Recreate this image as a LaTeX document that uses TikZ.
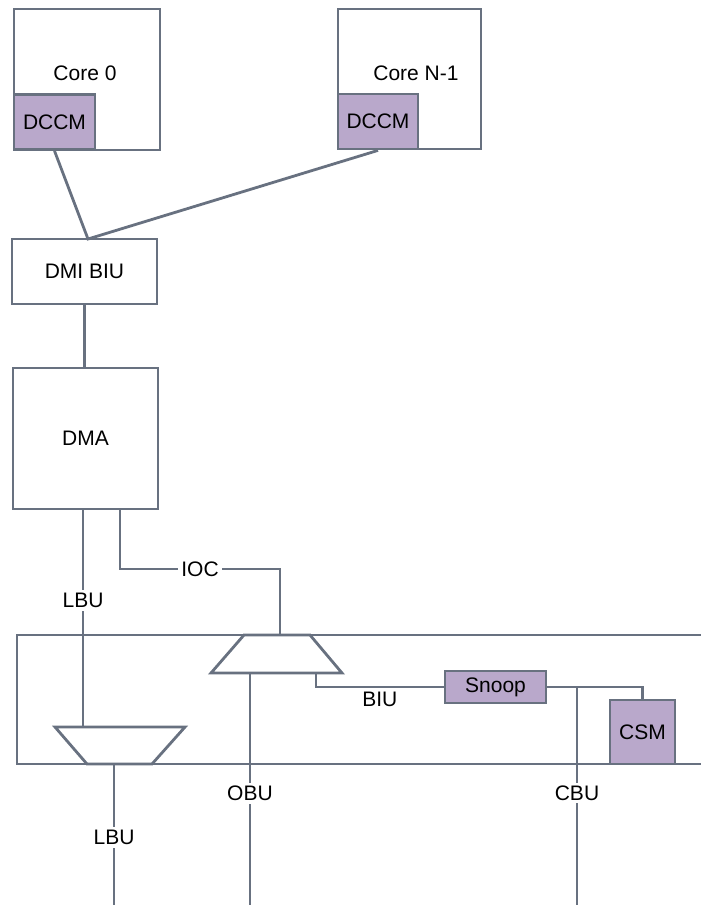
\documentclass[tikz,border=0pt]{standalone}
\usepackage{fontspec}
\setmainfont{Liberation Sans}
\usepackage{tikz}

\definecolor{linegray}{RGB}{104,113,128}
\definecolor{mempurple}{RGB}{185,168,203}

\tikzset{
  txt/.style={font=\fontsize{21}{25}\selectfont},
  box/.style={txt, draw=linegray, line width=2.8pt, rectangle, inner sep=0pt},
  mem/.style={box, fill=mempurple},
  lbl/.style={txt, fill=white, inner sep=3pt},
  wire/.style={draw=linegray, line width=2.8pt},
}

\begin{document}
\begin{tikzpicture}[x=1pt,y=-1pt]
      \useasboundingbox (0,0) rectangle (701,905);

      % コア
      \node[box, minimum width=146, minimum height=141] (core0) at (87,79.5) {};
      \node[txt] (core0txt) at (85,73) {Core 0};
      \node[mem, minimum width=81, minimum height=55] (dccm0) at (54.5,122) {DCCM};

      \node[box, minimum width=143, minimum height=140] (coreN) at (409.5,79) {};
      \node[txt] (coreNtxt) at (416,73) {Core N-1};
      \node[mem, minimum width=80, minimum height=55] (dccmN) at (378,121.5) {DCCM};

      % DMI BIU と DMA
      \node[box, minimum width=145, minimum height=65] (dmibiu) at (84.5,271.5) {DMI BIU};
      \node[box, minimum width=145, minimum height=141] (dma) at (85.5,438.5) {DMA};

      \coordinate (dmitop) at (88,239);
      \draw[wire] (dccm0.south) -- (dmitop) -- (dccmN.south);
      \draw[wire] (dmibiu.south) -- (dmibiu.south |- dma.north);

      % 下の枠(右側は開いている)
      \coordinate (busTL) at (17,635);
      \coordinate (busBL) at (17,764);
      \draw[wire] (701,635) -- (busTL) -- (busBL) -- (701,764);

      % セレクタ(台形)
      \coordinate (umuxTL) at (244,635);
      \coordinate (umuxTR) at (310,635);
      \coordinate (umuxBR) at (342,673);
      \coordinate (umuxBL) at (211,673);
      \draw[wire, line join=miter] (umuxTL) -- (umuxTR) -- (umuxBR) -- (umuxBL) -- cycle;

      \coordinate (lmuxTL) at (55,727);
      \coordinate (lmuxTR) at (185,727);
      \coordinate (lmuxBR) at (152,764);
      \coordinate (lmuxBL) at (87,764);
      \draw[wire, line join=miter] (lmuxTL) -- (lmuxTR) -- (lmuxBR) -- (lmuxBL) -- cycle;

      % Snoop と CSM
      \node[mem, minimum width=101, minimum height=32] (snoop) at (495.5,687) {Snoop};
      \node[mem, minimum width=65, minimum height=64] (csm) at (642.5,732) {CSM};

      % 配線
      \coordinate (dmaL) at (83,509);
      \coordinate (dmaR) at (120,509);
      \coordinate (iocA) at (120,569);
      \coordinate (iocB) at (280,569);
      \coordinate (iocC) at (280,635);
      \draw[wire] (dmaL) -- node[lbl, pos=0.42] {LBU} (dmaL |- lmuxTL);
      \draw[wire] (dmaR) -- (iocA) -- node[lbl] {IOC} (iocB) -- (iocC);

      \coordinate (lbuBot) at (114,905);
      \coordinate (obuBot) at (250,905);
      \coordinate (cbuBot) at (577,905);
      \draw[wire] (lbuBot |- lmuxBL) -- node[lbl, pos=0.52] {LBU} (lbuBot);
      \draw[wire] (obuBot |- umuxBL) -- node[lbl, pos=0.52] {OBU} (obuBot);
      \draw[wire] (cbuBot |- snoop.east) -- node[lbl, pos=0.486] {CBU} (cbuBot);

      \coordinate (biuA) at (316,673);
      \draw[wire] (biuA) |- node[txt, pos=0.75, below] {BIU} (snoop.west);
      \draw[wire] (snoop.east) -| (csm.north);
\end{tikzpicture}
\end{document}
